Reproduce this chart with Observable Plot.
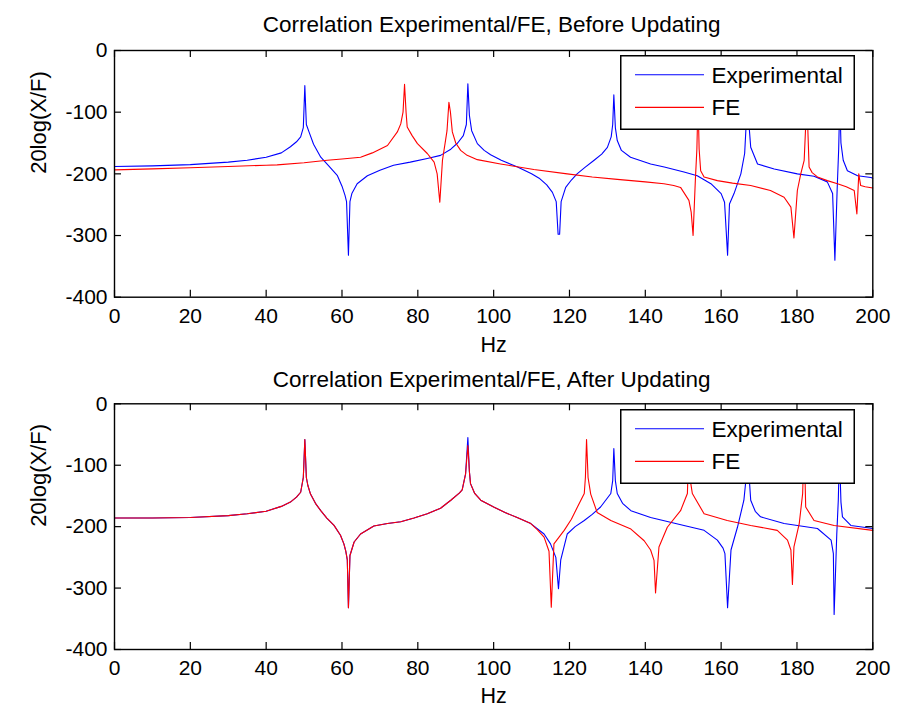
<!DOCTYPE html>
<html><head><meta charset="utf-8">
<script src="https://cdn.jsdelivr.net/npm/d3@7"></script>
<script src="https://cdn.jsdelivr.net/npm/@observablehq/plot@0.6"></script>
<style>
body{margin:0;background:#fff;font-family:"Liberation Sans",Arial,sans-serif;}
#root{position:relative;width:899px;height:709px;overflow:hidden;}
#root svg{display:block;}
.legend{position:absolute;}
</style>
</head><body>
<div id="root"></div>
<script>
// ---------- data ----------
const titles = ["Correlation Experimental/FE, Before Updating", "Correlation Experimental/FE, After Updating"];
const xLabel = "Hz";
const yLabel = "20log(X/F)";
const seriesNames = ["Experimental", "FE"];
const xTicks = [0, 20, 40, 60, 80, 100, 120, 140, 160, 180, 200];
const yTicks = [-400, -300, -200, -100, 0];

// Before updating — Experimental
const topExpHz = [0,10,20,30,35,40,44,46.4,48,49.1,49.8,50.2,50.6,51.3,52.5,54.4,56.5,58.8,60,60.8,61.2,61.7,62.1,62.6,64,66.7,70,73.6,78,82.5,86,88.7,90.5,92,92.8,93.2,93.6,94.2,95.7,97.5,99.2,102,106.3,110,112,114,115.5,116.5,117,117.4,117.8,119,120.5,122,124,126.5,128.5,130,131,131.4,131.7,132.1,132.6,133.7,136.1,141.4,145,150.2,153.7,157.3,160,160.9,161.7,162.2,163.4,165.2,166.2,166.6,167,167.4,167.8,169.6,174,180.1,184.5,188,189.4,190,190.6,191,191.3,191.6,192.2,193.3,196,199.5,200];
const topExpDb = [-188,-187,-185,-181,-178,-173,-166,-156,-148,-140,-125,-57,-120,-132,-152,-173,-187,-203,-220,-235,-245,-332,-245,-232,-216,-203,-194,-186,-181,-175,-170,-160,-150,-138,-120,-54,-105,-130,-151,-162,-169,-178,-189,-200,-207,-218,-230,-245,-298,-298,-245,-222,-210,-200,-190,-178,-168,-157,-140,-120,-72,-125,-146,-162,-173,-184,-189,-197,-203,-216,-232,-246,-332,-249,-232,-200,-167,-120,-75,-125,-157,-184,-192,-200,-204,-213,-232,-340,-225,-160,-80,-150,-178,-195,-203,-206,-207];

// Before updating — FE
const topFeHz = [0,10,20,30,40,42.9,50,56.1,60,64.9,68,72,74.6,75.5,76.1,76.5,76.9,77.2,78.5,79.9,82.5,84.3,85.1,85.8,86.5,87.3,87.7,88.2,88.6,89.1,90,91.3,93,95.7,101.8,110.6,119.4,126,132.6,140,144.9,147.5,149.3,151.5,152.1,152.6,153.2,153.6,153.9,154.2,154.6,155.5,159,163,167.8,173,176.6,178.4,179.2,180.1,181,181.9,182.6,183.2,184,185.4,188,190.7,193,195.1,195.8,196.3,196.8,198,200];
const topFeDb = [-193.5,-192,-190,-188,-186,-185.5,-182,-178,-176,-173,-166,-154,-132,-119,-100,-55,-100,-124,-138,-151,-167,-181,-200,-246,-178,-146,-130,-84,-100,-132,-150,-162,-170,-177,-184,-193,-200,-205,-209,-213,-216,-219,-222,-243,-262,-300,-210,-160,-80,-160,-195,-205,-211,-215,-219,-227,-238,-254,-304,-227,-200,-178,-80,-189,-198,-205,-211,-216,-221,-227,-265,-200,-219,-221,-223];

// After updating — Experimental
const botExpHz = [0,10,20,30,35,40,44,46.4,48,49.1,49.8,50.2,50.6,51,51.7,53,54.4,56,57.9,59.6,60.5,61,61.4,61.7,62.1,63.2,64.9,68.4,72,75.5,79,82.5,86,88.7,91,91.7,92.6,93.2,93.6,93.9,95,96.6,100,103,106.2,109.8,113.3,115,116.4,117.1,117.7,119.4,121.5,123.9,126,128.2,130.9,131.4,131.7,132.1,132.6,134,136.2,141.4,150.2,155.5,159,160.5,161,161.7,162.6,164.3,166,166.6,167,167.4,167.8,169,170.4,176.6,185.4,189,189.6,189.8,190.5,190.9,191.2,191.6,192,194.2,200];
const botExpDb = [-186,-186,-185,-182,-179,-175,-167,-160,-152,-144,-120,-58,-120,-133,-147,-162,-174,-186,-198,-214,-228,-240,-254,-332,-247,-225,-212,-199,-195,-192,-186,-179,-170,-157,-145,-140,-114,-55,-110,-130,-146,-157,-168,-177,-185,-195,-212,-228,-250,-301,-254,-212,-200,-190,-180,-168,-146,-125,-73,-125,-146,-162,-174,-185,-198,-206,-222,-235,-244,-332,-238,-201,-157,-120,-70,-120,-157,-175,-184,-195,-203,-222,-244,-343,-212,-157,-80,-160,-184,-198,-203];

// After updating — FE
const botFeHz = [0,10,20,30,35,40,44,46.4,48,49.1,49.8,50.2,50.6,51,51.7,53,54.4,56,57.9,59.6,60.5,61,61.4,61.7,62.1,63.2,64.9,68.4,72,75.5,79,82.5,86,88.7,91,91.7,92.6,93.2,93.6,93.9,95,96.6,100,103,106.2,109.8,111.5,113.3,114.6,115.2,115.9,118.6,120.5,122.1,123.9,124.2,124.5,124.9,125.6,127.3,130.9,136.2,139.7,141.4,142.3,142.7,143.6,145.8,149.3,151.1,151.5,152,152.4,155.5,161.6,167.8,174.8,177.5,178.4,178.8,179.2,180.6,181.5,181.9,182.3,184.5,189.8,200];
const botFeDb = [-186,-186,-185,-182,-179,-175,-167,-160,-152,-144,-120,-58,-120,-133,-147,-162,-174,-186,-198,-214,-228,-240,-254,-332,-247,-225,-212,-199,-195,-192,-186,-179,-170,-157,-145,-140,-114,-68,-110,-130,-146,-157,-168,-177,-185,-195,-205,-217,-240,-331,-228,-206,-188,-168,-146,-120,-58,-120,-147,-177,-190,-204,-223,-238,-255,-308,-233,-201,-174,-146,-60,-130,-146,-179,-190,-198,-206,-222,-238,-294,-233,-195,-146,-60,-168,-190,-198,-206];

const colors = ["#0000ff", "#ff0000"];

// ---------- drawing ----------
const W = 899;
const font = '"Liberation Sans", Arial, Helvetica, sans-serif';
const root = document.getElementById("root");

function toRows(hz, db) { return hz.map((x, i) => ({x, y: db[i]})); }

function panel(cfg) {
  const {expHz, expDb, feHz, feDb, title, height, mt, mb, titleDy, hzDy} = cfg;
  const ml = 114, mr = 26.7;
  const ph = height - mt - mb, pw = W - ml - mr;
  const tick = 7;
  return Plot.plot({
    width: W, height,
    marginLeft: ml, marginRight: mr, marginTop: mt, marginBottom: mb,
    x: {domain: [0, 200]},
    y: {domain: [-400, 0]},
    style: {fontFamily: font, fontSize: "21px", color: "#000", background: "#fff", overflow: "visible"},
    marks: [
      Plot.line(toRows(expHz, expDb), {x: "x", y: "y", stroke: colors[0], strokeWidth: 1.1}),
      Plot.line(toRows(feHz, feDb), {x: "x", y: "y", stroke: colors[1], strokeWidth: 1.1}),
      Plot.tickX(xTicks, {x: d => d, insetTop: ph - tick, stroke: "#000", strokeWidth: 1.2}),
      Plot.tickX(xTicks, {x: d => d, insetBottom: ph - tick, stroke: "#000", strokeWidth: 1.2}),
      Plot.tickY(yTicks, {y: d => d, insetRight: pw - tick, stroke: "#000", strokeWidth: 1.2}),
      Plot.tickY(yTicks, {y: d => d, insetLeft: pw - tick, stroke: "#000", strokeWidth: 1.2}),
      Plot.frame({stroke: "#000", strokeWidth: 1.4}),
      Plot.axisX(xTicks, {tickSize: 0, tickPadding: 11, label: null, tickFormat: d => String(d), fontSize: 21}),
      Plot.axisY(yTicks, {tickSize: 0, tickPadding: 7, label: null, tickFormat: d => String(d), fontSize: 21}),
      Plot.text([xLabel], {frameAnchor: "bottom", dy: hzDy, lineAnchor: "middle", fontSize: 21.5, fill: "#000"}),
      Plot.text([yLabel], {frameAnchor: "left", dx: -76, rotate: -90, lineAnchor: "middle", fontSize: 22, fill: "#000"}),
      Plot.text([title], {frameAnchor: "top", dx: -2, dy: titleDy, lineAnchor: "middle", fontSize: 22.5, fill: "#000"})
    ]
  });
}

function legend(top) {
  const ns = "http://www.w3.org/2000/svg";
  const svg = document.createElementNS(ns, "svg");
  svg.setAttribute("class", "legend");
  svg.setAttribute("width", 235);
  svg.setAttribute("height", 75);
  svg.style.left = "620px";
  svg.style.top = top + "px";
  const r = document.createElementNS(ns, "rect");
  Object.entries({x: 0.75, y: 0.75, width: 233.5, height: 73.5, fill: "#fff", stroke: "#000", "stroke-width": 1.5})
    .forEach(([k, v]) => r.setAttribute(k, v));
  svg.appendChild(r);
  const rows = [19.7, 52.4];
  seriesNames.forEach((name, i) => {
    const l = document.createElementNS(ns, "line");
    Object.entries({x1: 15, x2: 84, y1: rows[i], y2: rows[i], stroke: colors[i], "stroke-width": 1.1})
      .forEach(([k, v]) => l.setAttribute(k, v));
    svg.appendChild(l);
    const t = document.createElementNS(ns, "text");
    Object.entries({x: 91.5, y: rows[i] + 8, "font-size": 22.5, "font-family": font, fill: "#000"})
      .forEach(([k, v]) => t.setAttribute(k, v));
    t.textContent = name;
    svg.appendChild(t);
  });
  return svg;
}

root.appendChild(panel({expHz: topExpHz, expDb: topExpDb, feHz: topFeHz, feDb: topFeDb, title: titles[0],
  height: 354, mt: 50, mb: 57.3, titleDy: -26, hzDy: 47.5}));
root.appendChild(panel({expHz: botExpHz, expDb: botExpDb, feHz: botFeHz, feDb: botFeDb, title: titles[1],
  height: 355, mt: 49.3, mb: 60, titleDy: -24.5, hzDy: 47}));
root.appendChild(legend(55.3));
root.appendChild(legend(409.3));
</script>
</body></html>
